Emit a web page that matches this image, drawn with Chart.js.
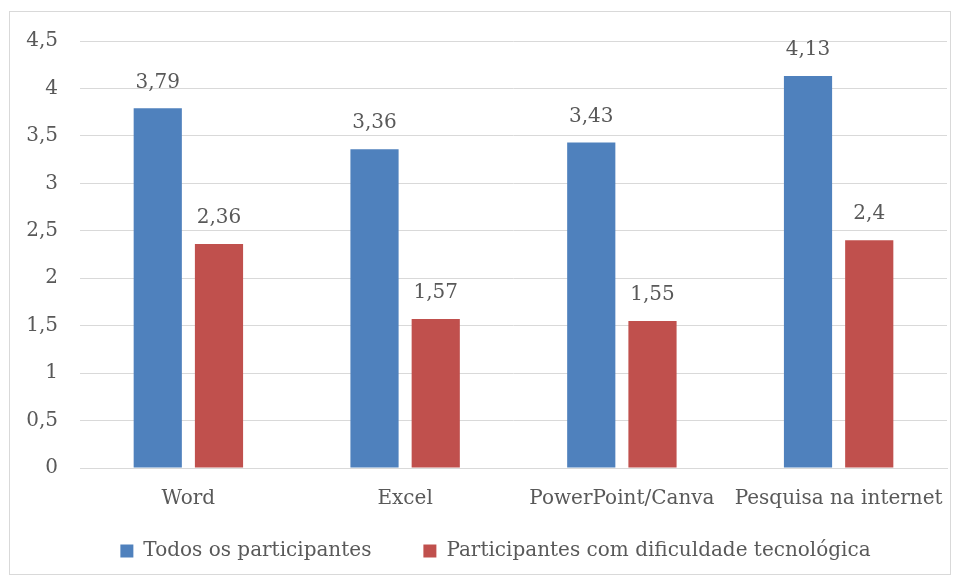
<!DOCTYPE html>
<html>
<head>
<meta charset="utf-8">
<script src="https://cdn.jsdelivr.net/npm/chart.js@4"></script>
<style>
  html, body { margin: 0; padding: 0; background: #fff; }
  #wrap { position: relative; width: 954px; height: 579px; }
</style>
</head>
<body>
<div id="wrap"><canvas id="myChart" width="954" height="579"></canvas></div>
<script>
const categories = ['Word', 'Excel', 'PowerPoint/Canva', 'Pesquisa na internet'];
const todos = [3.79, 3.36, 3.43, 4.13];
const dificuldade = [2.36, 1.57, 1.55, 2.4];
const seriesNames = ['Todos os participantes', 'Participantes com dificuldade tecnológica'];

const FONT = 'DejaVu Serif';
const TEXT = '#595959';
const SIZE = 20;

const fmt = v => String(v).replace('.', ',');

// border around the whole chart
const borderPlugin = {
    id: 'outerBorder',
    beforeDraw(chart) {
        const c = chart.ctx;
        c.save();
        c.fillStyle = '#fff';
        c.fillRect(0, 0, chart.width, chart.height);
        c.strokeStyle = '#d9d9d9';
        c.lineWidth = 1;
        c.strokeRect(9.5, 11.5, 941, 563);
        c.restore();
    }
};

// the wide legend padding pushes the items down, pull the legend back up (and a bit left)
const legendShift = {
    id: 'legendShift',
    afterLayout(chart) {
        const lg = chart.legend;
        lg.top -= 31;
        lg.bottom -= 31;
        lg.left -= 18;
        lg.right -= 18;
    }
};

// value labels above bars
const valueLabels = {
    id: 'valueLabels',
    afterDatasetsDraw(chart) {
        const c = chart.ctx;
        c.save();
        c.font = SIZE + 'px "' + FONT + '"';
        c.fillStyle = TEXT;
        c.textAlign = 'center';
        c.textBaseline = 'middle';
        chart.data.datasets.forEach((ds, i) => {
            chart.getDatasetMeta(i).data.forEach((bar, j) => {
                c.fillText(fmt(ds.data[j]), bar.x, bar.y - 26);
            });
        });
        c.restore();
    }
};

const ctx = document.getElementById('myChart').getContext('2d');

const myChart = new Chart(ctx, {
    type: 'bar',
    data: {
        labels: categories,
        datasets: [{
            label: seriesNames[0],
            data: todos,
            backgroundColor: '#4f81bd'
        }, {
            label: seriesNames[1],
            data: dificuldade,
            backgroundColor: '#c0504d'
        }]
    },
    options: {
        responsive: false,
        animation: false,
        layout: { padding: { left: 10, right: 7, top: 41, bottom: -23 } },
        datasets: {
            bar: { categoryPercentage: 0.565, barPercentage: 0.787 }
        },
        scales: {
            x: {
                grid: { display: false, drawTicks: false },
                border: { color: '#d9d9d9' },
                ticks: {
                    color: TEXT,
                    font: { family: FONT, size: SIZE },
                    padding: 19,
                    maxRotation: 0,
                    autoSkip: false
                },
                afterFit(s) {
                    s.height = 52;
                    s.paddingLeft = 0;
                    s.paddingRight = 0;
                }
            },
            y: {
                min: 0,
                max: 4.5,
                grid: { color: '#d9d9d9', drawTicks: false },
                border: { display: false },
                ticks: {
                    stepSize: 0.5,
                    color: TEXT,
                    font: { family: FONT, size: SIZE },
                    padding: 22,
                    callback: v => fmt(v)
                },
                afterFit(s) { s.width = 70; }
            }
        },
        plugins: {
            legend: {
                position: 'bottom',
                fullSize: false,
                labels: {
                    color: TEXT,
                    font: { family: FONT, size: SIZE },
                    boxWidth: 13,
                    boxHeight: 13,
                    padding: 52
                }
            },
            tooltip: { enabled: false }
        }
    },
    plugins: [borderPlugin, legendShift, valueLabels]
});
</script>
</body>
</html>
